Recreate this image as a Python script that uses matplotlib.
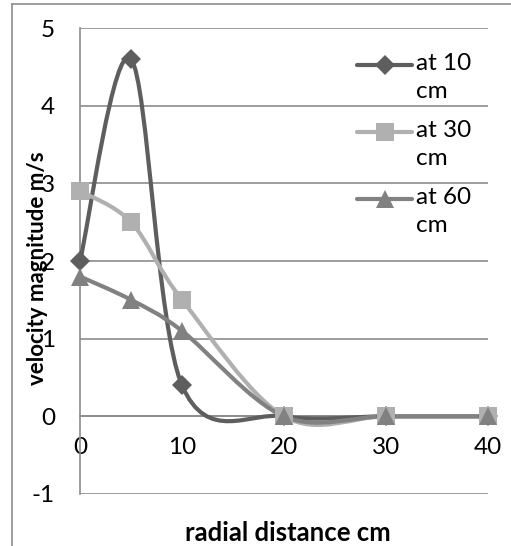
import numpy as np
import matplotlib
matplotlib.use("Agg")
import matplotlib.pyplot as plt
from matplotlib.lines import Line2D
from matplotlib.path import Path
from matplotlib.patches import PathPatch

plt.rcParams["font.family"] = ["Lato", "DejaVu Sans"]
plt.rcParams["axes.unicode_minus"] = False

# data
radial_cm = [0, 5, 10, 20, 30, 40]
at_10cm = [2.0, 4.6, 0.4, 0.0, 0.0, 0.0]
at_30cm = [2.9, 2.5, 1.5, 0.0, 0.0, 0.0]
at_60cm = [1.8, 1.5, 1.1, 0.0, 0.0, 0.0]
series_labels = ["at 10\ncm", "at 30\ncm", "at 60\ncm"]
x_ticks = [0, 10, 20, 30, 40]
y_ticks = [-1, 0, 1, 2, 3, 4, 5]

colors = ["#5e5e5e", "#b0b0b0", "#818181"]
markers = ["D", "s", "^"]
msizes = [10, 13, 13]


def smooth_path(xs, ys):
    # Excel-like smoothed line: cubic bezier, tangents (P[i+1]-P[i-1])/6
    p = np.column_stack([xs, ys]).astype(float)
    n = len(p)
    verts = [p[0]]
    codes = [Path.MOVETO]
    for i in range(n - 1):
        prev = p[max(i - 1, 0)]
        nxt = p[min(i + 2, n - 1)]
        c1 = p[i] + (p[i + 1] - prev) / 6.0
        c2 = p[i + 1] - (nxt - p[i]) / 6.0
        verts += [c1, c2, p[i + 1]]
        codes += [Path.CURVE4] * 3
    return Path(verts, codes)


fig = plt.figure(figsize=(5.11, 5.46), dpi=100)
ax = fig.add_axes([80 / 511, 1 - 494 / 546, 408 / 511, 466 / 546])

for ys, col, mk, ms in zip([at_10cm, at_30cm, at_60cm], colors, markers, msizes):
    ax.add_patch(PathPatch(smooth_path(radial_cm, ys), facecolor="none",
                           edgecolor=col, linewidth=3, zorder=3, capstyle="round"))
    ax.plot(radial_cm, ys, linestyle="none", marker=mk, markersize=ms,
            color=col, markeredgewidth=0, zorder=4, clip_on=False)

ax.set_xlim(0, 40)
ax.set_ylim(-1, 5)
ax.set_xticks(x_ticks)
ax.set_yticks(y_ticks)
ax.grid(axis="y", color="#8c8c8c", linewidth=1.2, zorder=0)
for s in ["top", "right"]:
    ax.spines[s].set_visible(False)
ax.spines["bottom"].set_position(("data", 0))
ax.spines["bottom"].set_color("#8c8c8c")
ax.spines["left"].set_color("#8c8c8c")
ax.spines["left"].set_linewidth(1.2)
ax.spines["bottom"].set_linewidth(1.2)
ax.tick_params(axis="both", length=0, labelsize=17.5, colors="black")
ax.tick_params(axis="y", pad=18)
ax.tick_params(axis="x", pad=15)

ax.set_xlabel("radial distance cm", fontsize=18.5, fontweight="bold")
ax.xaxis.set_label_coords(208 / 408, -27 / 466)
# y title as plain text below the axis artists so the tick digits stay on top
ax.text(-42 / 408, (494 - 268) / 466, "velocity magnitude m/s", transform=ax.transAxes,
        rotation=90, ha="center", va="center", fontsize=16, fontweight="bold",
        zorder=1, clip_on=False)

# legend drawn in axes fraction
for k, (lab, col, mk, ms) in enumerate(zip(series_labels, colors, markers, msizes)):
    yy = (494 - (65 + 67 * k)) / 466
    ax.plot([(357 - 80) / 408, (412 - 80) / 408], [yy, yy], transform=ax.transAxes,
            color=col, linewidth=3, solid_capstyle="round", clip_on=False, zorder=5)
    ax.plot([(385 - 80) / 408], [yy], transform=ax.transAxes, marker=mk,
            markersize=ms, color=col, markeredgewidth=0, clip_on=False, zorder=5)
    ax.text((416 - 80) / 408, yy + 12 / 466, lab, transform=ax.transAxes,
            fontsize=17.5, ha="left", va="top", linespacing=1.4)

# chart-area border (top and left only visible)
fig.add_artist(Line2D([12 / 511, 12 / 511], [0, 1 - 4 / 546], color="#8c8c8c", linewidth=1.2))
fig.add_artist(Line2D([12 / 511, 1], [1 - 4 / 546, 1 - 4 / 546], color="#8c8c8c", linewidth=1.2))

fig.savefig("out.png", dpi=100)
